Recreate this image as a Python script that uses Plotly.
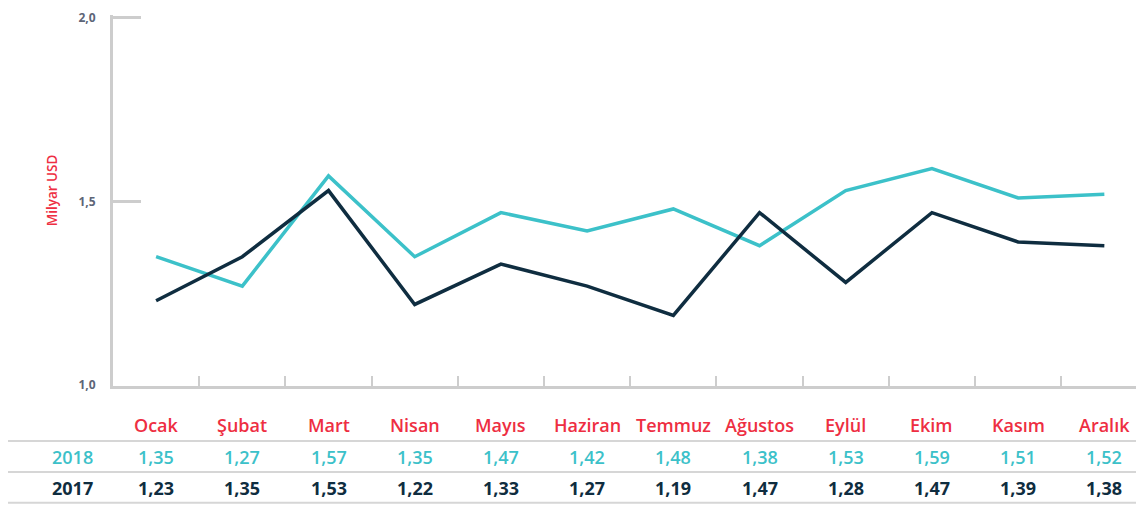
import plotly.graph_objects as go

months = ["Ocak", "Şubat", "Mart", "Nisan", "Mayıs", "Haziran", "Temmuz",
          "Ağustos", "Eylül", "Ekim", "Kasım", "Aralık"]
v2018 = [1.35, 1.27, 1.57, 1.35, 1.47, 1.42, 1.48, 1.38, 1.53, 1.59, 1.51, 1.52]
v2017 = [1.23, 1.35, 1.53, 1.22, 1.33, 1.27, 1.19, 1.47, 1.28, 1.47, 1.39, 1.38]
ytick_vals = [1.0, 1.5, 2.0]
ytick_text = ["1,0", "1,5", "2,0"]

TEAL = "#3cc1c9"
NAVY = "#0f2d40"
RED = "#ee2e42"
GRAY = "#cdcdcd"
FONT = "Open Sans"

xs = list(range(len(months)))

def fmt(v):
    return f"{v:.2f}".replace(".", ",")

fig = go.Figure()
fig.add_trace(go.Scatter(x=xs, y=v2018, mode="lines", name="2018",
                         line=dict(color=TEAL, width=3.5)))
fig.add_trace(go.Scatter(x=xs, y=v2017, mode="lines", name="2017",
                         line=dict(color=NAVY, width=3.5)))

annotations = []
ROW_MONTH, ROW_2018, ROW_2017 = -0.105, -0.191, -0.275
FS = 18
for i, m in enumerate(months):
    annotations.append(dict(x=i, y=ROW_MONTH, xref="x", yref="paper", text=m,
                            yanchor="middle", showarrow=False,
                            font=dict(family=FONT, size=FS, color=RED, weight=600)))
    annotations.append(dict(x=i, y=ROW_2018, xref="x", yref="paper", text=fmt(v2018[i]),
                            yanchor="middle", showarrow=False,
                            font=dict(family=FONT, size=FS, color=TEAL, weight=600)))
    annotations.append(dict(x=i, y=ROW_2017, xref="x", yref="paper", text=fmt(v2017[i]),
                            yanchor="middle", showarrow=False,
                            font=dict(family=FONT, size=FS, color=NAVY, weight=700)))
annotations.append(dict(x=-0.017, y=ROW_2018, xref="paper", yref="paper", text="2018",
                        xanchor="right", yanchor="middle", showarrow=False,
                        font=dict(family=FONT, size=FS, color=TEAL, weight=600)))
annotations.append(dict(x=-0.017, y=ROW_2017, xref="paper", yref="paper", text="2017",
                        xanchor="right", yanchor="middle", showarrow=False,
                        font=dict(family=FONT, size=FS, color=NAVY, weight=700)))
annotations.append(dict(x=-0.059, y=0.528, xref="paper", yref="paper", text="Milyar USD",
                        textangle=-90, showarrow=False, xanchor="center", yanchor="middle",
                        font=dict(family=FONT, size=13.5, color=RED, weight=600)))

shapes = []
for yy in [-0.148, -0.232, -0.315]:
    shapes.append(dict(type="line", xref="paper", yref="paper", x0=-0.103, x1=1.0,
                       y0=yy, y1=yy, line=dict(color="#d6d6d6", width=2)))

fig.update_layout(
    width=1136, height=497,
    margin=dict(l=105, r=0, t=7, b=119),
    paper_bgcolor="white", plot_bgcolor="white",
    showlegend=False,
    annotations=annotations,
    shapes=shapes,
    xaxis=dict(range=[-0.5, 11.46], showgrid=False, zeroline=False,
               showline=True, linecolor=GRAY, linewidth=3,
               tickvals=[i - 0.5 for i in range(12)], ticks="inside",
               ticklen=10, tickwidth=2, tickcolor=GRAY, showticklabels=False),
    yaxis=dict(range=[0.998, 2.008], showgrid=False, zeroline=False,
               showline=True, linecolor=GRAY, linewidth=3,
               tickvals=ytick_vals, ticktext=ytick_text, ticks="inside",
               ticklen=28, tickwidth=3, tickcolor=GRAY, ticklabelstandoff=12,
               tickfont=dict(family=FONT, size=12, color="#5d6577", weight=700)),
)

fig.write_html("out.html")
